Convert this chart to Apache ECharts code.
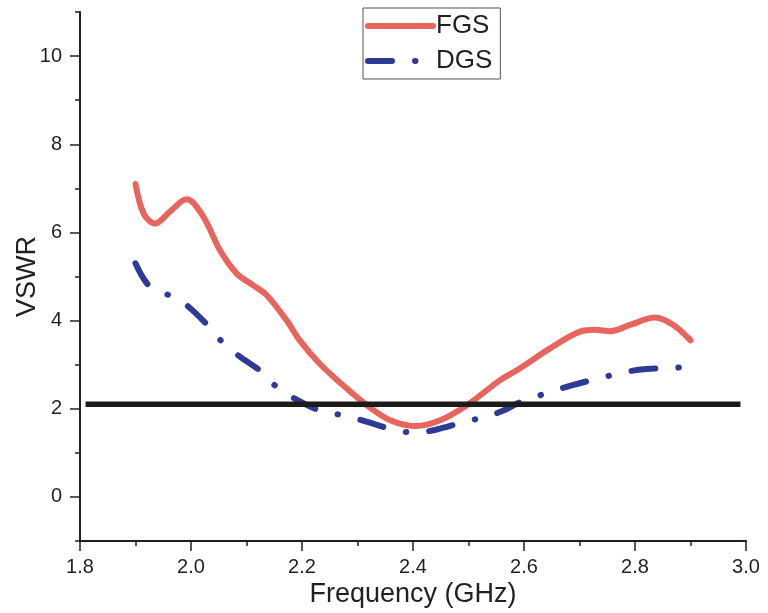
<!DOCTYPE html>
<html>
<head>
<meta charset="utf-8">
<script src="https://cdn.jsdelivr.net/npm/echarts@6/dist/echarts.min.js"></script>
<style>
  html, body { margin: 0; padding: 0; background: #ffffff; }
  #chart { width: 768px; height: 613px; }
</style>
</head>
<body>
<div id="chart"></div>
<script>
// Frequency (GHz) and VSWR readings
const fgsFreq = [1.900, 1.915, 1.935, 1.962, 1.992, 2.022, 2.052, 2.082, 2.112, 2.136, 2.172, 2.196, 2.232, 2.275, 2.317, 2.359, 2.404, 2.449, 2.497, 2.557, 2.593, 2.647, 2.701, 2.728, 2.755, 2.791, 2.836, 2.869, 2.900];
const fgsVswr = [7.10, 6.42, 6.20, 6.47, 6.75, 6.36, 5.60, 5.07, 4.80, 4.58, 4.01, 3.55, 3.02, 2.52, 2.08, 1.74, 1.61, 1.74, 2.08, 2.65, 2.92, 3.37, 3.75, 3.79, 3.76, 3.90, 4.07, 3.90, 3.55];

const dgsFreq = [1.900, 1.926, 1.965, 1.992, 2.031, 2.055, 2.085, 2.127, 2.153, 2.184, 2.232, 2.274, 2.310, 2.367, 2.404, 2.443, 2.494, 2.530, 2.563, 2.593, 2.647, 2.689, 2.728, 2.785, 2.821, 2.857, 2.900];
const dgsVswr = [5.30, 4.77, 4.55, 4.35, 3.88, 3.53, 3.21, 2.84, 2.51, 2.25, 1.96, 1.85, 1.73, 1.52, 1.46, 1.53, 1.71, 1.81, 1.96, 2.15, 2.38, 2.54, 2.67, 2.84, 2.90, 2.92, 2.95];

const refFreq = [1.81, 2.99];
const refVswr = [2.10, 2.10];

const xTicks = [1.8, 2.0, 2.2, 2.4, 2.6, 2.8, 3.0];
const yMajorTicks = [0, 2, 4, 6, 8, 10];
const yMinorTicks = [-1, 1, 3, 5, 7, 9, 11];

const seriesNames = ['FGS', 'DGS'];

const zip = (a, b) => a.map((v, i) => [v, b[i]]);

const chart = echarts.init(document.getElementById('chart'), null, { renderer: 'canvas' });
const fontFam = '"Liberation Sans", Arial, Helvetica, sans-serif';
const axisColor = '#231f20';

chart.setOption({
  animation: false,
  backgroundColor: '#ffffff',
  textStyle: { fontFamily: fontFam },
  grid: { left: 80, right: 22, top: 12, bottom: 72, containLabel: false, outerBoundsMode: 'none' },
  legend: {
    data: seriesNames,
    orient: 'vertical',
    left: 363,
    top: 8,
    padding: [5, 8, 5, 2],
    itemWidth: 65,
    itemHeight: 26,
    itemGap: 9,
    borderColor: '#555555',
    borderWidth: 1,
    itemStyle: { opacity: 0 },
    lineStyle: { width: 6, cap: 'round' },
    textStyle: { fontSize: 26, color: axisColor, fontFamily: fontFam, padding: [0, 0, 0, -2] }
  },
  xAxis: {
    type: 'value',
    min: xTicks[0],
    max: xTicks[xTicks.length - 1],
    interval: 0.2,
    name: 'Frequency (GHz)',
    nameLocation: 'middle',
    nameGap: 40,
    nameMoveOverlap: false,
    nameTextStyle: { fontSize: 27, color: axisColor, fontFamily: fontFam },
    axisLine: { show: true, onZero: false, lineStyle: { color: axisColor, width: 2 } },
    axisTick: { show: true, inside: false, length: 10, lineStyle: { color: axisColor, width: 1.5 } },
    minorTick: { show: true, splitNumber: 2, length: 5, lineStyle: { color: axisColor, width: 1.5 } },
    axisLabel: { fontSize: 20, color: axisColor, margin: 16, formatter: v => v.toFixed(1), fontFamily: fontFam },
    splitLine: { show: false }
  },
  yAxis: [
    {
      type: 'value',
      min: -1,
      max: 11,
      name: 'VSWR',
      nameLocation: 'middle',
      nameGap: 39,
      nameMoveOverlap: false,
      nameTextStyle: { fontSize: 27, color: axisColor, fontFamily: fontFam },
      axisLine: { show: true, onZero: false, lineStyle: { color: axisColor, width: 2 } },
      axisTick: { show: true, length: 10, customValues: yMajorTicks, lineStyle: { color: axisColor, width: 1.5 } },
      axisLabel: { fontSize: 20, color: axisColor, margin: 18, customValues: yMajorTicks, fontFamily: fontFam },
      splitLine: { show: false }
    },
    {
      type: 'value',
      min: -1,
      max: 11,
      position: 'left',
      axisLine: { show: false, onZero: false },
      axisTick: { show: true, length: 5, customValues: yMinorTicks, lineStyle: { color: axisColor, width: 1.5 } },
      axisLabel: { show: false },
      splitLine: { show: false }
    }
  ],
  series: [
    {
      name: seriesNames[0],
      type: 'line',
      data: zip(fgsFreq, fgsVswr),
      smooth: 0.35,
      symbol: 'none',
      lineStyle: { color: '#e8655d', width: 6, cap: 'round', join: 'round' },
      itemStyle: { color: '#e8655d' },
      z: 3
    },
    {
      name: seriesNames[1],
      type: 'line',
      data: zip(dgsFreq, dgsVswr),
      smooth: 0.35,
      symbol: 'none',
      lineStyle: { color: '#2e3a96', width: 6, type: [24, 23, 0.5, 23], cap: 'round', join: 'round' },
      itemStyle: { color: '#2e3a96' },
      z: 3
    },
    {
      name: 'ref',
      type: 'line',
      data: zip(refFreq, refVswr),
      symbol: 'none',
      lineStyle: { color: '#1d1a1a', width: 5.5, cap: 'butt' },
      itemStyle: { color: '#1d1a1a' },
      z: 4
    }
  ]
});
</script>
</body>
</html>
